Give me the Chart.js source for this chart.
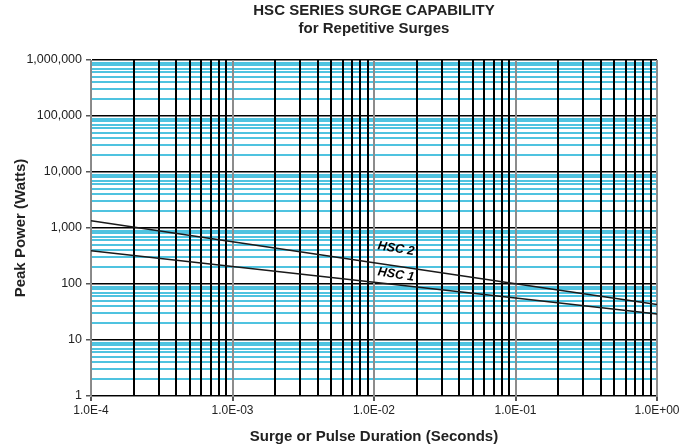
<!DOCTYPE html>
<html>
<head>
	<meta charset="utf-8">
	<script src="https://cdn.jsdelivr.net/npm/chart.js"></script>
	<title>HSC Series Surge Capability</title>
	<style>
		html, body { margin: 0; padding: 0; background: #fff; }
		#contenedor { width: 696px; height: 448px; }
	</style>
</head>
<body>
<div id="contenedor"><canvas id="grafico"></canvas></div>
<script>
// valores
const duraciones = [1e-4, 1e-3, 1e-2, 1e-1, 1];
const hsc1 = [393, 205, 107, 56, 29];
const hsc2 = [1343, 568, 240, 101, 43];

const decadasX = [1e-4, 1e-3, 1e-2, 1e-1, 1];
const etiquetasX = ['1.0E-4', '1.0E-03', '1.0E-02', '1.0E-01', '1.0E+00'];
const decadasY = [1, 10, 100, 1000, 10000, 100000, 1000000];
const etiquetasY = ['1', '10', '100', '1,000', '10,000', '100,000', '1,000,000'];

// notas sobre las curvas
const notasTexto = ['HSC 2', 'HSC 1'];
const notasX = [0.0143, 0.0143];
const notasY = [426, 147];

// ticks: 1..9 por cada decada, marcando las decadas
function ticksLog(decadas) {
	const lista = [];
	decadas.forEach((d, i) => {
		lista.push({ value: d, dec: i });
		if (i < decadas.length - 1) {
			for (let m = 2; m <= 9; m++) lista.push({ value: m * d, dec: -1 });
		}
	});
	return lista;
}

const esDecada = ctx => ctx.tick && ctx.tick.dec >= 0;

const notasPlugin = {
	id: 'notas',
	afterDatasetsDraw(chart) {
		const { ctx, scales } = chart;
		ctx.save();
		ctx.font = 'italic bold 12.5px "Liberation Sans", Arial, sans-serif';
		ctx.fillStyle = '#000';
		ctx.textAlign = 'center';
		ctx.textBaseline = 'middle';
		notasTexto.forEach((t, i) => {
			const px = scales.x.getPixelForValue(notasX[i]);
			const py = scales.y.getPixelForValue(notasY[i]);
			ctx.save();
			ctx.translate(px, py);
			ctx.rotate(9 * Math.PI / 180);
			ctx.fillText(t, 0, 0);
			ctx.restore();
		});
		ctx.restore();
	}
};

const fuente = '"Liberation Sans", Arial, sans-serif';
Chart.defaults.font.family = fuente;
Chart.defaults.color = '#222';

new Chart(document.getElementById('grafico'), {
	type: 'line',
	data: {
		datasets: [
			{
				label: 'HSC 1',
				data: duraciones.map((d, i) => ({ x: d, y: hsc1[i] })),
				borderColor: '#1a1a1a',
				borderWidth: 1.5,
				pointRadius: 0,
				tension: 0
			},
			{
				label: 'HSC 2',
				data: duraciones.map((d, i) => ({ x: d, y: hsc2[i] })),
				borderColor: '#1a1a1a',
				borderWidth: 1.5,
				pointRadius: 0,
				tension: 0
			}
		]
	},
	options: {
		responsive: true,
		maintainAspectRatio: false,
		animation: false,
		layout: { padding: { top: 0, right: 39, bottom: 0, left: 0 } },
		plugins: {
			legend: { display: false },
			tooltip: { enabled: false },
			title: {
				display: true,
				fullSize: false,
				text: ['HSC SERIES SURGE CAPABILITY', 'for Repetitive Surges'],
				font: { size: 15, weight: 'bold', lineHeight: 1.2 },
				color: '#222',
				padding: { top: 2, bottom: 22 }
			}
		},
		scales: {
			x: {
				type: 'logarithmic',
				min: 1e-4,
				max: 1,
				afterBuildTicks: s => { s.ticks = ticksLog(decadasX); },
				afterFit: s => { s.height = 52; },
				ticks: {
					autoSkip: false,
					maxRotation: 0,
					padding: 2,
					font: { size: 12 },
					callback: (v, i, t) => t[i].dec >= 0 ? etiquetasX[t[i].dec] : ''
				},
				grid: {
					z: -1,
					color: ctx => esDecada(ctx) ? '#8c8c8c' : '#000',
					lineWidth: 2,
					tickLength: 5,
					tickColor: ctx => esDecada(ctx) ? '#555' : 'rgba(0,0,0,0)'
				},
				border: { color: '#888', width: 1 },
				title: {
					display: true,
					text: 'Surge or Pulse Duration (Seconds)',
					font: { size: 15, weight: 'bold' },
					color: '#222',
					padding: { top: 0, bottom: 2 }
				}
			},
			y: {
				type: 'logarithmic',
				min: 1,
				max: 1000000,
				afterBuildTicks: s => { s.ticks = ticksLog(decadasY); },
				afterFit: s => { s.width = 91; },
				ticks: {
					autoSkip: false,
					padding: 4,
					font: { size: 12.5 },
					callback: (v, i, t) => t[i].dec >= 0 ? etiquetasY[t[i].dec] : ''
				},
				grid: {
					z: -2,
					color: ctx => esDecada(ctx) ? '#000' : '#4fc3e0',
					lineWidth: ctx => esDecada(ctx) ? 1.5 : 2,
					tickLength: 5,
					tickColor: ctx => esDecada(ctx) ? '#555' : 'rgba(0,0,0,0)'
				},
				border: { color: '#888', width: 1 },
				title: {
					display: true,
					text: 'Peak Power (Watts)',
					font: { size: 15, weight: 'bold' },
					color: '#222',
					padding: { top: 12, bottom: 0 }
				}
			}
		}
	},
	plugins: [notasPlugin]
});
</script>
</body>
</html>
